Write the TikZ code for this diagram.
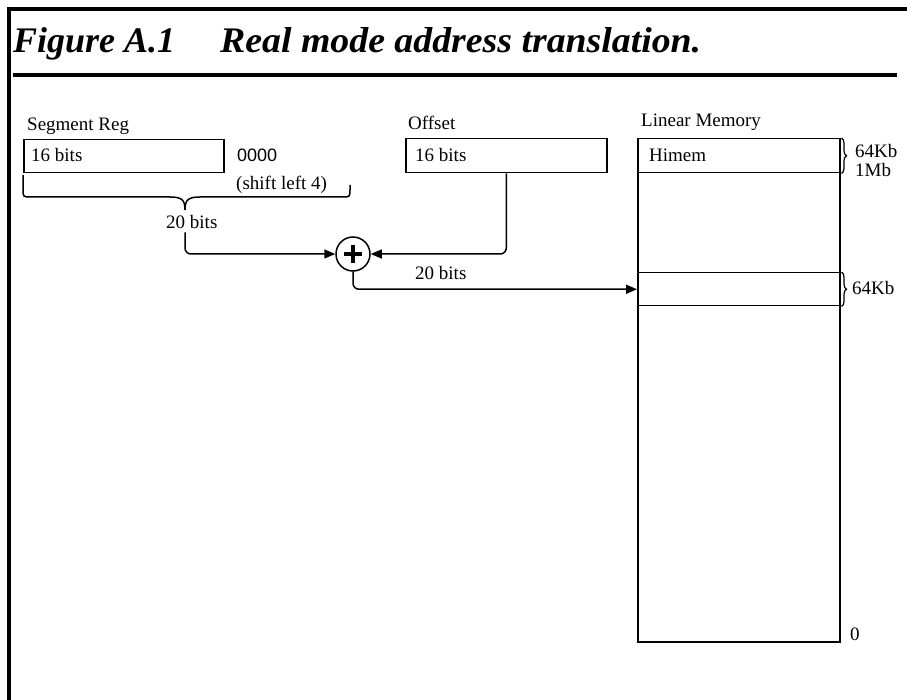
\documentclass[tikz,border=0pt]{standalone}
\usepackage{fontspec}
\usepackage{graphicx}
\setmainfont{Liberation Serif}
\newfontfamily\sansf{Liberation Sans}
\usetikzlibrary{arrows.meta,decorations.pathreplacing}
\tikzset{
  regbox/.style={draw,line width=1.5pt,rectangle,inner sep=0pt,anchor=north west},
  lbl/.style={inner sep=0pt,anchor=base west,font=\fontsize{19}{21}\selectfont},
  ttlfont/.style={inner sep=0pt,anchor=base west,font=\fontsize{36}{40}\selectfont\bfseries\itshape},
  conn/.style={line width=1.5pt,rounded corners=6pt},
  tipped/.style={-{Triangle[length=11pt,width=9pt]}},
  rbrace/.style={decorate,decoration={brace,amplitude=5pt},line width=1.2pt},
}
\begin{document}
\begin{tikzpicture}[x=1pt,y=-1pt]
\useasboundingbox (0,0) rectangle (907,700);
% frame and title rule
\draw[line width=3.5pt] (9,700) -- (9,9) -- (907,9);
\draw[line width=3.5pt] (13,75) -- (897,75);
\node[ttlfont] (fig) at (13,53) {Figure A.1};
\node[ttlfont] (ttl) at (220,53) {\scalebox{1.05}[1]{Real mode address translation.}};
% segment register
\node[lbl] (seglbl) at (27,131) {Segment Reg};
\node[regbox,minimum width=200pt,minimum height=33pt] (seg) at (23,139) {};
\node[lbl] (segbits) at (31,162) {16 bits};
\node[lbl,font=\sansf\fontsize{18}{20}\selectfont] (zeros) at (237,162) {0000};
\node[lbl] (shift) at (236,190) {(shift left 4)};
% brace
\coordinate (brtip) at (185,210);
\draw[line width=1.5pt] (23,175) -- (23,189) .. controls (23,197) and (23,197) .. (31,197) -- (170,197)
  .. controls (182,197) and (185,200) .. (brtip)
  .. controls (185,200) and (188,197) .. (200,197) -- (342,197)
  .. controls (350,197) and (350,197) .. (350,189) -- (350,185);
\node[lbl] (bits1) at (166,229) {20 bits};
% adder
\node[circle,draw,line width=1.5pt,minimum size=34pt,inner sep=0pt] (plus) at (353,254) {};
\draw[line width=3.2pt] ([xshift=-9pt]plus.center) -- ([xshift=9pt]plus.center);
\draw[line width=3.2pt] ([yshift=-9pt]plus.center) -- ([yshift=9pt]plus.center);
% offset
\node[lbl] (offlbl) at (408,130) {Offset};
\node[regbox,minimum width=201pt,minimum height=34pt] (off) at (405,138) {};
\node[lbl] (offbits) at (415,162) {16 bits};
% linear memory
\node[lbl] (memlbl) at (641,127) {Linear Memory};
\node[regbox,minimum width=202pt,minimum height=503pt] (mem) at (637,138) {};
\node[regbox,minimum width=202pt,minimum height=34pt] (himem) at (637,138) {};
\node[regbox,minimum width=202pt,minimum height=33pt] (slot) at (637,272) {};
\node[lbl] (himemlbl) at (649,162) {Himem};
\draw[rbrace] ([xshift=1pt]himem.north east) -- ([xshift=1pt]himem.south east);
\draw[rbrace] ([xshift=1pt]slot.north east) -- ([xshift=1pt]slot.south east);
\node[lbl] (kb1) at (855,158) {64Kb};
\node[lbl] (mb1) at (855,177) {1Mb};
\node[lbl] (kb2) at (852,295) {64Kb};
\node[lbl] (zero) at (850,640) {0};
% connectors
\draw[conn,tipped] ([yshift=-3pt]brtip |- bits1.south) |- (plus.west);
\draw[conn,tipped] (off.south) |- (plus.east);
\draw[conn,tipped] (plus.south) |- (slot.west);
\node[lbl] (bits2) at (415,280) {20 bits};
\end{tikzpicture}
\end{document}
